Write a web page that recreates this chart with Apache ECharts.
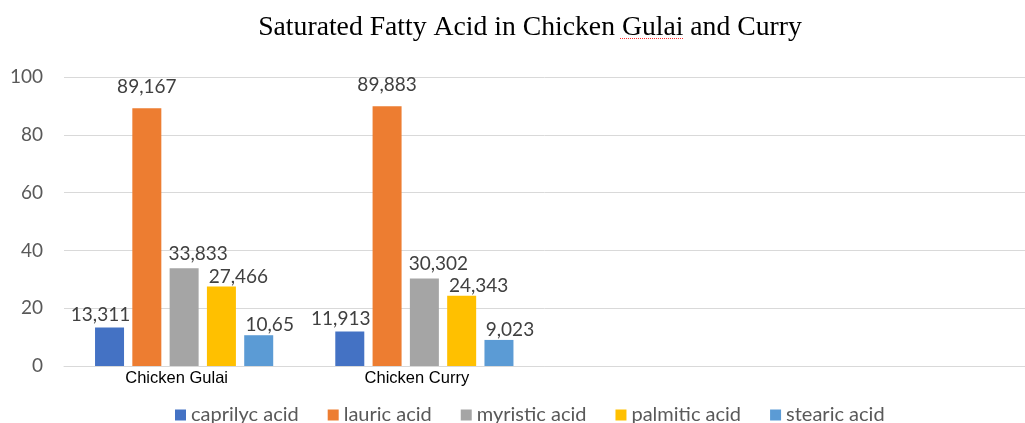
<!DOCTYPE html>
<html>
<head>
<meta charset="utf-8">
<script src="https://cdn.jsdelivr.net/npm/echarts@6/dist/echarts.min.js"></script>
<style>html,body{margin:0;padding:0;background:#fff;}#c{width:1025px;height:423px;}</style>
</head>
<body>
<div id="c"></div>
<script>
const categories = ['Chicken Gulai', 'Chicken Curry', '', ''];
const seriesNames = ['caprilyc acid', 'lauric acid', 'myristic acid', 'palmitic acid', 'stearic acid'];
const caprilyc = [13.311, 11.913];
const lauric = [89.167, 89.883];
const myristic = [33.833, 30.302];
const palmitic = [27.466, 24.343];
const stearic = [10.65, 9.023];
const yTicks = [0, 20, 40, 60, 80, 100];

const values = [caprilyc, lauric, myristic, palmitic, stearic];
const colors = ['#4472C4', '#ED7D31', '#A5A5A5', '#FFC000', '#5B9BD5'];
const labelDist = [3, 12, 5, 0, 1];
const labelOffX = [-9, 0, 14, 17, 11];

const chart = echarts.init(document.getElementById('c'), null, {renderer: 'canvas'});
chart.setOption({
  backgroundColor: '#ffffff',
  animation: false,
  title: {
    text: 'Saturated Fatty Acid in Chicken Gulai and Curry',
    left: 525, top: 9, textAlign: 'center',
    textStyle: {fontFamily: 'Liberation Serif', fontSize: 27.7, fontWeight: 'normal', color: '#000000'}
  },
  graphic: [{
    type: 'line', shape: {x1: 620, y1: 38.5, x2: 684, y2: 38.5},
    style: {stroke: '#ff3030', lineWidth: 1, lineDash: [1, 1]}
  }],
  legend: {
    data: seriesNames, left: 170, top: 400, icon: 'rect', itemWidth: 11, itemHeight: 11, itemGap: 29,
    textStyle: {fontFamily: 'Lato', fontSize: 20, color: '#595959'}
  },
  grid: {left: 64, top: 77, width: 972, height: 289, containLabel: false},
  xAxis: {
    type: 'category', data: categories,
    axisLine: {lineStyle: {color: '#d9d9d9', width: 1}},
    axisTick: {show: false},
    axisLabel: {fontFamily: 'Liberation Sans', fontSize: 16.5, color: '#000000', margin: 4, padding: [0, 15, 0, 0], interval: 0}
  },
  yAxis: {
    type: 'value', min: yTicks[0], max: yTicks[yTicks.length - 1], interval: yTicks[1] - yTicks[0],
    axisLine: {show: false}, axisTick: {show: false},
    splitLine: {lineStyle: {color: '#d9d9d9', width: 1}},
    axisLabel: {fontFamily: 'Lato', fontSize: 19, color: '#595959', margin: 21}
  },
  series: seriesNames.map((name, i) => ({
    name: name, type: 'bar', data: values[i],
    barWidth: 29, barGap: '28.6%',
    itemStyle: {color: colors[i]},
    label: {
      show: true, position: 'top', distance: labelDist[i], offset: [labelOffX[i], 0],
      fontFamily: 'Lato', fontSize: 19, color: '#404040',
      formatter: p => String(p.value).replace('.', ',')
    }
  }))
});
</script>
</body>
</html>
